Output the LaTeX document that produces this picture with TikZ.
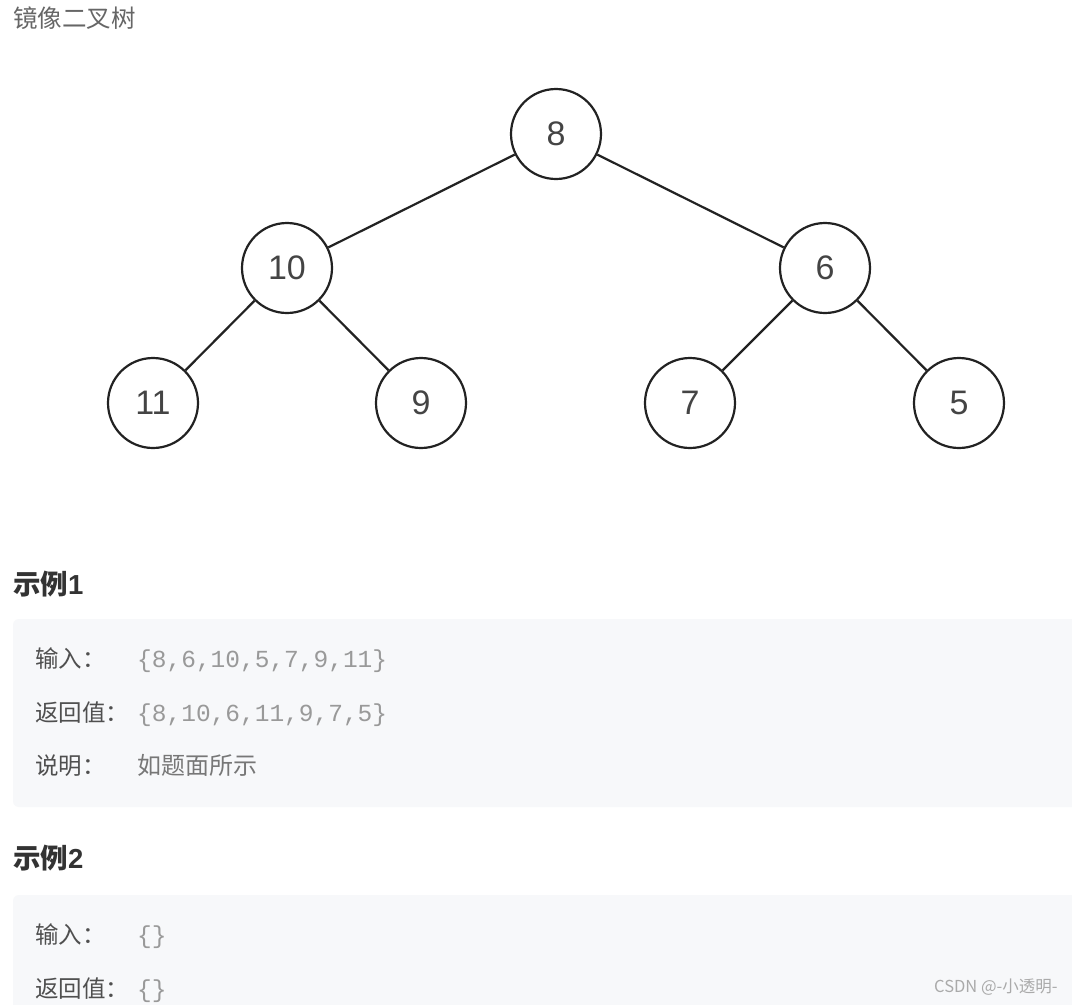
\documentclass[tikz,border=0pt]{standalone}
\usepackage{fontspec}
\setmainfont{Liberation Sans}
\newfontfamily\cjk{Noto Sans CJK SC}
\newfontfamily\mono{Liberation Mono}
\definecolor{boxbg}{HTML}{F7F8FA}
\definecolor{titlegray}{HTML}{666666}
\definecolor{headdark}{HTML}{333333}
\definecolor{labelgray}{HTML}{4F4F4F}
\definecolor{valgray}{HTML}{999999}
\definecolor{textgray}{HTML}{777777}
\definecolor{wmgray}{HTML}{AAAAAA}
\definecolor{linedark}{HTML}{222222}
\definecolor{nodetext}{HTML}{444444}
\tikzset{
  treenode/.style={circle, draw=linedark, line width=2.2pt, minimum size=90pt, inner sep=0pt,
    font=\fontsize{34}{40}\selectfont, text=nodetext},
  edge/.style={draw=linedark, line width=2.2pt},
  heading/.style={anchor=west, inner sep=0pt, font=\cjk\bfseries\fontsize{27.5}{32}\selectfont, text=headdark},
  rowlabel/.style={anchor=base west, inner sep=0pt, font=\cjk\fontsize{23.5}{28}\selectfont, text=labelgray},
  rowvalue/.style={anchor=base west, inner sep=0pt, font=\mono\fontsize{24.5}{28}\selectfont, text=valgray},
  rowtext/.style={anchor=base west, inner sep=0pt, font=\cjk\fontsize{24}{28}\selectfont, text=textgray},
  examplebox/.style={fill=boxbg, rounded corners=6pt, draw=none},
}
\begin{document}
\begin{tikzpicture}[x=1pt,y=-1pt]
\useasboundingbox (0,0) rectangle (1072,1005);
\fill[white] (0,0) rectangle (1072,1005);
% title
\node[anchor=base west, inner sep=0pt, font=\cjk\fontsize{24.5}{28}\selectfont, text=titlegray] (title) at (13,27) {镜像二叉树};
% tree
\node[treenode] (n8) at (556,134) {8};
\node[treenode] (n10) at (287,268) {10};
\node[treenode] (n6) at (825,268) {6};
\node[treenode] (n11) at (153,403) {11};
\node[treenode] (n9) at (421,403) {9};
\node[treenode] (n7) at (690,403) {7};
\node[treenode] (n5) at (959,403) {5};
\draw[edge] (n8) -- (n10);
\draw[edge] (n8) -- (n6);
\draw[edge] (n10) -- (n11);
\draw[edge] (n10) -- (n9);
\draw[edge] (n6) -- (n7);
\draw[edge] (n6) -- (n5);
% example 1
\node[heading] (h1) at (13,584) {示例{\fontspec{Liberation Sans}\bfseries 1}};
\fill[examplebox] (13,619) rectangle (1090,807);
\node[rowlabel] (l1a) at (35,667) {输入：};
\node[rowvalue] (v1a) at (137,667) {\{8,6,10,5,7,9,11\}};
\node[rowlabel] (l1b) at (35,721) {返回值：};
\node[rowvalue] (v1b) at (137,721) {\{8,10,6,11,9,7,5\}};
\node[rowlabel] (l1c) at (35,774) {说明：};
\node[rowtext] (v1c) at (137,774) {如题面所示};
% example 2
\node[heading] (h2) at (13,858) {示例{\fontspec{Liberation Sans}\bfseries 2}};
\fill[examplebox] (13,895) rectangle (1090,1030);
\node[rowlabel] (l2a) at (35,943) {输入：};
\node[rowvalue] (v2a) at (137,943) {\{\}};
\node[rowlabel] (l2b) at (35,997) {返回值：};
\node[rowvalue] (v2b) at (137,997) {\{\}};
% watermark
\node[anchor=west, inner sep=0pt, font=\cjk\fontsize{16.5}{19}\selectfont, text=wmgray] (wm) at (934,987) {CSDN @-小透明-};
\end{tikzpicture}
\end{document}
